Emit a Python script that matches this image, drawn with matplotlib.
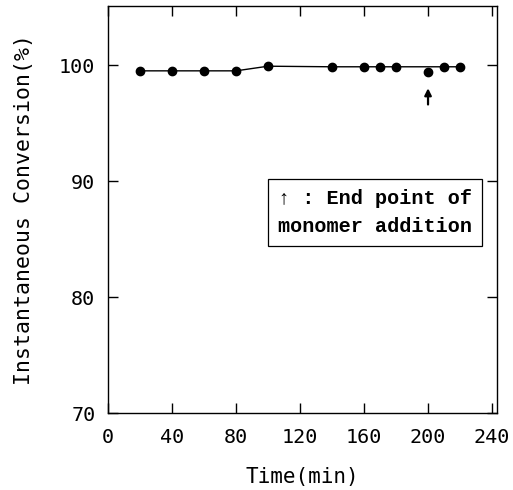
import matplotlib
matplotlib.use('Agg')
import matplotlib.pyplot as plt

# data
time_min = [20, 40, 60, 80, 100, 140, 160, 170, 180, 200, 210, 220]
conversion = [99.5, 99.5, 99.5, 99.5, 99.95, 99.85, 99.85, 99.85, 99.85, 99.4, 99.85, 99.85]
# drawn guide line (passes above the point at 200 min)
trend = [99.5, 99.5, 99.5, 99.5, 99.9, 99.85, 99.85, 99.85, 99.85, 99.85, 99.85, 99.85]
x_ticks = [0, 40, 80, 120, 160, 200, 240]
y_ticks = [70, 80, 90, 100]
end_point = 200

fig = plt.figure(figsize=(5.13, 4.90), dpi=100)
ax = fig.add_axes([0.2105, 0.157, 0.758, 0.831])

ax.plot(time_min, trend, color='black', lw=1.0)
ax.plot(time_min, conversion, ls='none', marker='o', ms=6, color='black')

# arrow marking end of monomer addition
ax.annotate('', xy=(end_point, 98.0), xytext=(end_point, 96.6),
            arrowprops=dict(arrowstyle='-|>', color='black', lw=1.6,
                            mutation_scale=10, shrinkA=0, shrinkB=0))

ax.text(167, 87.3, '\u2191 : End point of\nmonomer addition',
        ha='center', va='center', fontsize=14.5, fontweight='bold',
        family=['Liberation Mono', 'DejaVu Sans Mono'], linespacing=1.55,
        bbox=dict(boxstyle='square,pad=0.5', facecolor='white',
                  edgecolor='black', lw=0.9))

ax.set_xlim(0, 243)
ax.set_ylim(70, 105.1)
ax.set_xticks(x_ticks)
ax.set_yticks(y_ticks)
ax.tick_params(direction='in', top=True, right=True, length=7, width=1)
ax.tick_params(axis='x', pad=11)
ax.tick_params(axis='y', pad=9)
for lab in ax.get_xticklabels() + ax.get_yticklabels():
    lab.set_family('DejaVu Sans Mono')
    lab.set_fontsize(14.5)
for s in ax.spines.values():
    s.set_linewidth(1.0)

ax.set_xlabel('Time(min)', fontsize=15, family='DejaVu Sans Mono', labelpad=14)
ax.set_ylabel('Instantaneous Conversion(%)', fontsize=15.5,
              family='DejaVu Sans Mono', labelpad=18)

fig.savefig('out.png', dpi=100)
